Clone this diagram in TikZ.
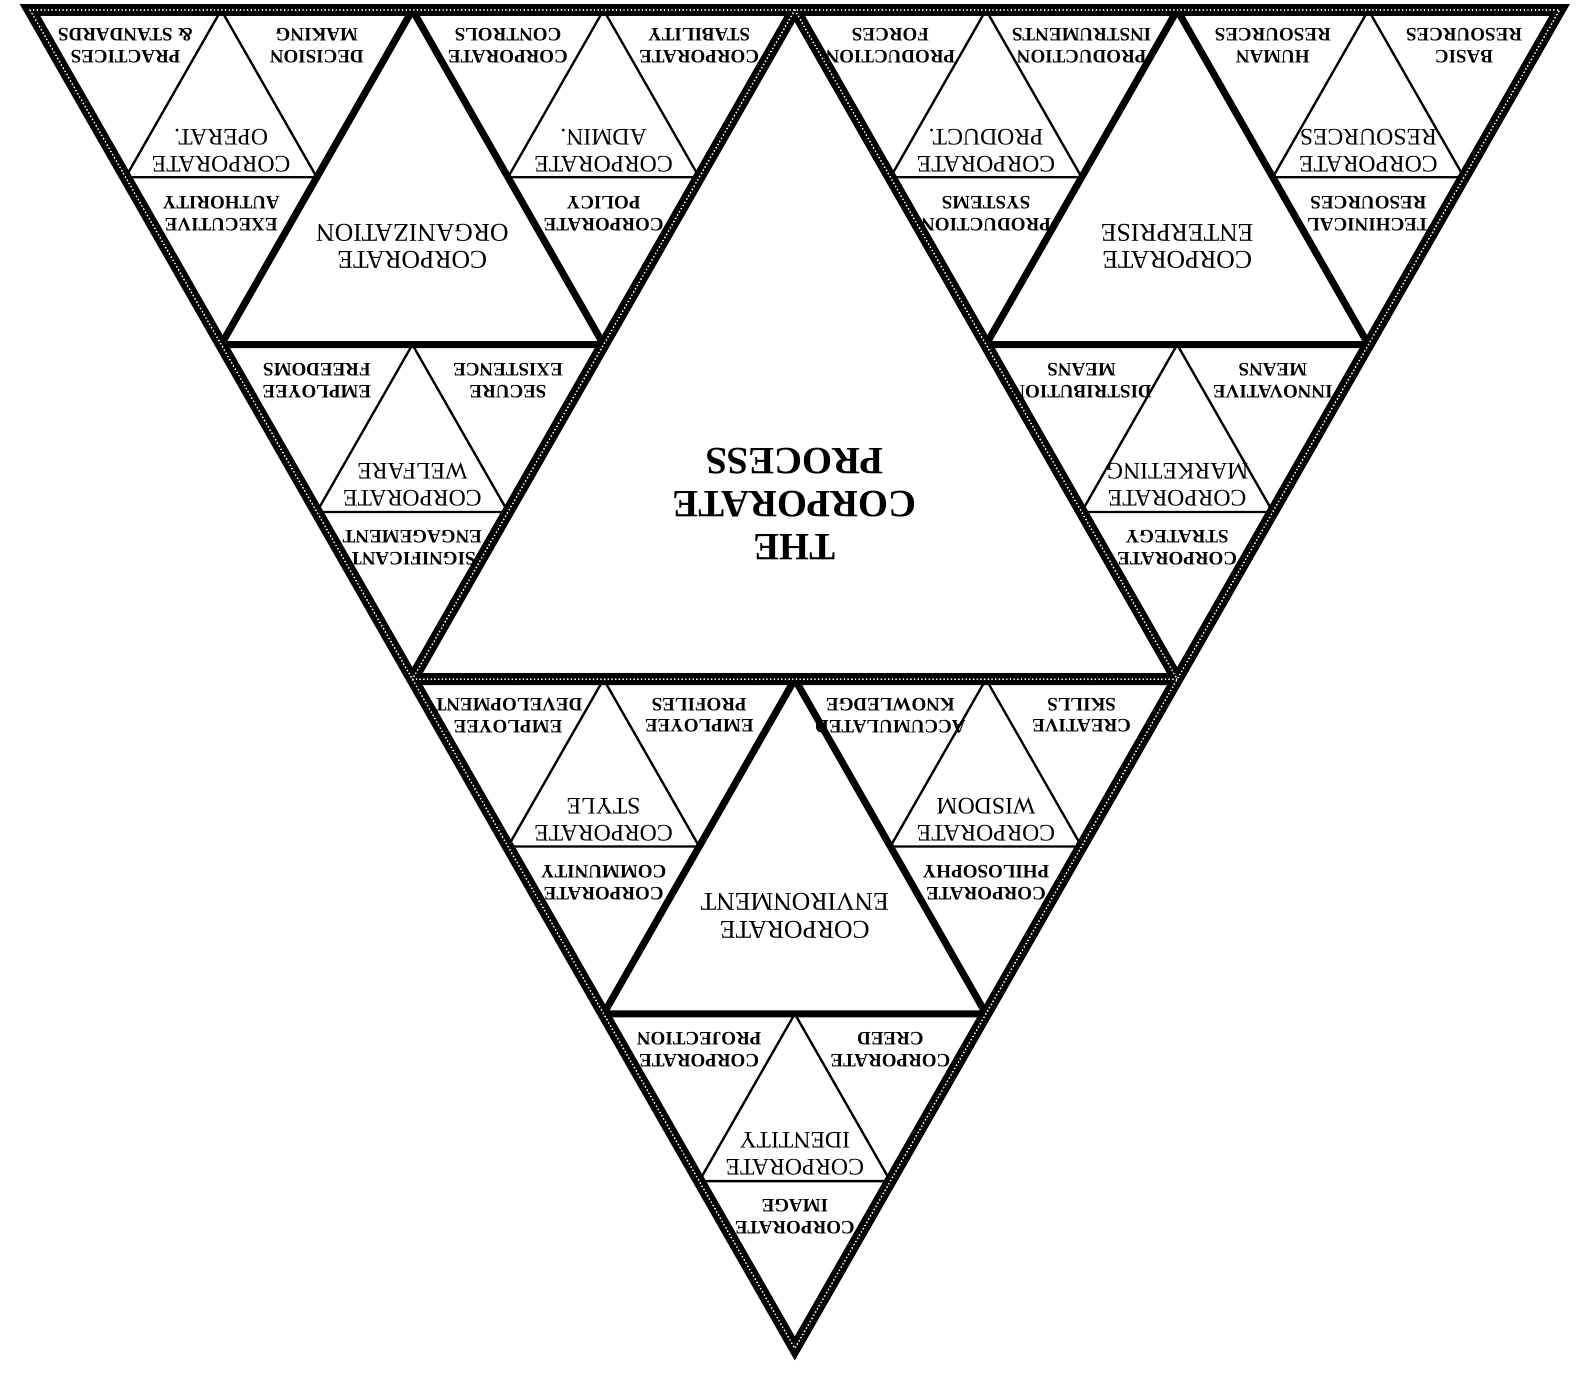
\documentclass[tikz,border=0pt]{standalone}
\usepackage{fontspec}
\setmainfont{Liberation Serif}
\newcommand\labfontS{\fontsize{10.8}{12.5}\selectfont\bfseries}
\newcommand\labfontM{\fontsize{13.5}{15.3}\selectfont}
\newcommand\labfontB{\fontsize{14.6}{15.5}\selectfont}
\newcommand\labfontT{\fontsize{22}{24.4}\selectfont\bfseries}
\newcommand\SLab[4]{\node[smalllab] (s-#1-#2) at ({125.6+95.6*#1+191.2*#2},{46+167.3*#1}) {#3\\#4};}
\newcommand\MLab[4]{\node[midlab] (m-#1-#2) at ({30+95.6*#1+191.2*(#2+1)},{10+167.3*(#1+1)-27}) {#3\\#4};}
\begin{document}
\begin{tikzpicture}[x=0.02cm,y=-0.02cm,
  smalllab/.style={rotate=180,align=center,inner sep=0pt,font=\labfontS},
  midlab/.style={rotate=180,align=center,inner sep=0pt,font=\labfontM},
  biglab/.style={rotate=180,align=center,inner sep=0pt,font=\labfontB},
  titlelab/.style={rotate=180,align=center,inner sep=0pt,font=\labfontT},
  thinline/.style={line width=1.3pt,line join=miter},
  thickline/.style={line width=4pt,line join=bevel},
  texline/.style={line width=6.8pt},
  speck/.style={white,line width=1.1pt,line cap=round,dash pattern=on 0pt off 2.1pt}]
\useasboundingbox (0,0) rectangle (1576,1389);
\foreach \k in {0,...,8}{
  \pgfmathtruncatemacro\jmax{8-\k}
  \foreach \j in {0,...,\jmax}{
    \coordinate (p-\k-\j) at ({30+95.6*\k+191.2*\j},{10+167.3*\k});
  }
}
% thin middle triangles
\foreach \a/\b in {0/0,0/2,2/0,0/4,0/6,2/4,4/0,4/2,6/0}{
  \pgfmathtruncatemacro\aa{\a+1}
  \pgfmathtruncatemacro\bb{\b+1}
  \draw[thinline] (p-\a-\bb) -- (p-\aa-\b) -- (p-\aa-\bb) -- cycle;
}
% thick level-2 triangles
\draw[thickline] (p-0-2) -- (p-2-0) -- (p-2-2) -- cycle;
\draw[thickline] (p-0-6) -- (p-2-4) -- (p-2-6) -- cycle;
\draw[thickline] (p-4-2) -- (p-6-0) -- (p-6-2) -- cycle;
% textured level-1 lines
\draw[texline,line join=miter] (p-0-0) -- (p-0-8) -- (p-8-0) -- cycle;
\draw[texline,line join=bevel] (p-0-4) -- (p-4-0) -- (p-4-4) -- cycle;
\draw[speck] (p-0-0) -- (p-0-8) -- (p-8-0) -- cycle;
\draw[speck] (p-0-4) -- (p-4-0) -- (p-4-4) -- cycle;
% small labels
\SLab{0}{0}{PRACTICES}{\& STANDARDS}
\SLab{0}{1}{DECISION}{MAKING}
\SLab{1}{0}{EXECUTIVE}{AUTHORITY}
\SLab{0}{2}{CORPORATE}{CONTROLS}
\SLab{0}{3}{CORPORATE}{STABILITY}
\SLab{1}{2}{CORPORATE}{POLICY}
\SLab{2}{0}{EMPLOYEE}{FREEDOMS}
\SLab{2}{1}{SECURE}{EXISTENCE}
\SLab{3}{0}{SIGNIFICANT}{ENGAGEMENT}
\SLab{0}{4}{PRODUCTION}{FORCES}
\SLab{0}{5}{PRODUCTION}{INSTRUMENTS}
\SLab{1}{4}{PRODUCTION}{SYSTEMS}
\SLab{0}{6}{HUMAN}{RESOURCES}
\SLab{0}{7}{BASIC}{RESOURCES}
\SLab{1}{6}{TECHINICAL}{RESOURCES}
\SLab{2}{4}{DISTRIBUTION}{MEANS}
\SLab{2}{5}{INNOVATIVE}{MEANS}
\SLab{3}{4}{CORPORATE}{STRATEGY}
\SLab{4}{0}{EMPLOYEE}{DEVELOPMENT}
\SLab{4}{1}{EMPLOYEE}{PROFILES}
\SLab{5}{0}{CORPORATE}{COMMUNITY}
\SLab{4}{2}{ACCUMULATED}{KNOWLEDGE}
\SLab{4}{3}{CREATIVE}{SKILLS}
\SLab{5}{2}{CORPORATE}{PHILOSOPHY}
\SLab{6}{0}{CORPORATE}{PROJECTION}
\SLab{6}{1}{CORPORATE}{CREED}
\SLab{7}{0}{CORPORATE}{IMAGE}
% middle labels
\MLab{0}{0}{CORPORATE}{OPERAT.}
\MLab{0}{2}{CORPORATE}{ADMIN.}
\MLab{2}{0}{CORPORATE}{WELFARE}
\MLab{0}{4}{CORPORATE}{PRODUCT.}
\MLab{0}{6}{CORPORATE}{RESOURCES}
\MLab{2}{4}{CORPORATE}{MARKETING}
\MLab{4}{0}{CORPORATE}{STYLE}
\MLab{4}{2}{CORPORATE}{WISDOM}
\MLab{6}{0}{CORPORATE}{IDENTITY}
% big labels
\node[biglab] (org) at (412.4,246.6) {CORPORATE\\ORGANIZATION};
\node[biglab] (ent) at (1177.2,246.6) {CORPORATE\\ENTERPRISE};
\node[biglab] (env) at (794.8,915.8) {CORPORATE\\ENVIRONMENT};
\node[titlelab] (title) at (794.8,504) {THE\\CORPORATE\\PROCESS};
\end{tikzpicture}
\end{document}
